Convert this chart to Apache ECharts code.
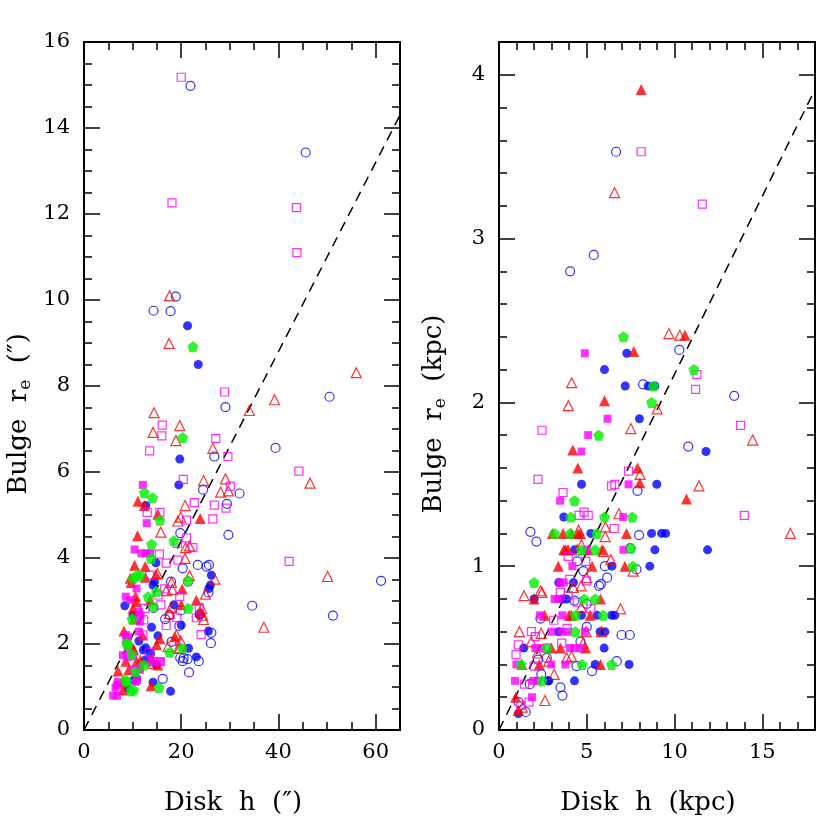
<!DOCTYPE html>
<html>
<head>
<meta charset="utf-8">
<script src="https://cdn.jsdelivr.net/npm/echarts@6/dist/echarts.min.js"></script>
<style>
  html, body { margin: 0; padding: 0; background: #ffffff; }
  #chart { width: 830px; height: 830px; }
</style>
</head>
<body>
<div id="chart"></div>
<script>
// ---- left panel: angular sizes (arcsec) ----
var leftOpenCircle = [[21.9,14.98],[45.6,13.43],[18.9,10.08],[14.3,9.75],[17.8,9.74],[29.1,7.51],[50.5,7.75],
  [39.4,6.56],[26.8,6.36],[24.5,5.59],[32.0,5.50],[29.4,5.26],[29.7,4.54],[19.8,4.58],[20.3,3.76],[23.4,3.84],
  [25.2,3.80],[25.7,3.84],[34.6,2.89],[51.2,2.66],[61.1,3.47],[17.9,3.45],[21.4,3.45],[19.9,2.78],[16.7,2.58],
  [17.6,2.67],[19.6,2.42],[26.2,2.26],[26.1,2.02],[18.0,2.05],[19.8,1.68],[20.3,1.60],[21.3,1.65],[23.6,1.60],
  [21.6,1.34],[16.2,1.19],[14.3,2.84],[25.6,3.20],[23.8,2.69],[20.5,1.67]];
var leftFilledCircle = [[21.3,9.40],[23.5,8.50],[19.7,6.30],[19.5,5.70],[14.8,3.89],[14.2,3.37],[14.5,3.45],
  [26.2,3.60],[25.7,3.29],[26.0,3.37],[18.5,2.91],[8.4,2.89],[13.9,2.39],[15.2,2.19],[25.6,2.30],[21.5,1.90],
  [23.1,1.70],[11.3,2.07],[14.2,1.11],[17.8,0.90],[9.0,0.97],[10.8,1.20],[20.0,2.44],[23.8,2.67],[12.6,1.63],
  [12.2,1.86],[14.9,1.51],[10.1,2.67],[12.7,5.22],[13.7,1.78],[12.7,1.91],[10.2,1.16]];
var leftOpenTriangle = [[17.6,10.1],[17.5,8.99],[56.0,8.31],[39.2,7.68],[34.0,7.43],[14.4,7.38],
  [14.2,6.92],[19.7,7.08],[18.9,6.73],[26.5,6.55],[24.6,5.80],[29.1,5.84],[28.1,5.53],[29.7,5.56],[46.5,5.74],
  [20.8,5.22],[19.3,4.86],[19.9,4.95],[15.8,4.60],[20.9,4.24],[21.7,4.28],[20.8,3.99],[21.7,3.59],[26.9,3.51],
  [25.0,3.16],[18.2,3.27],[18.0,3.43],[16.9,3.24],[24.2,2.83],[24.6,2.57],[24.4,2.67],[17.6,2.71],[17.9,2.85],
  [19.0,2.21],[19.9,2.07],[19.4,1.90],[17.3,1.94],[50.1,3.57],[37.0,2.39],[14.2,1.55],[15.1,3.64],[19.7,1.91],
  [14.1,1.61]];
var leftFilledTriangle = [[11.1,5.32],[12.4,5.22],[15.2,5.02],[23.9,4.92],[11.0,4.52],[10.4,3.83],[12.6,3.80],
  [9.5,3.53],[9.7,3.43],[12.6,3.55],[14.8,3.62],[10.6,3.11],[13.6,3.02],[20.2,3.28],[23.1,3.02],[20.0,2.91],
  [10.1,2.83],[10.8,2.98],[10.4,2.58],[8.2,2.30],[12.0,2.21],[14.9,1.98],[18.7,2.17],[10.1,1.90],[8.6,1.60],
  [10.8,1.59],[11.6,1.63],[13.8,1.67],[15.2,1.51],[7.0,1.37],[9.2,1.40],[8.0,1.12],[13.8,1.03],[24.0,2.75],
  [15.6,2.12],[10.2,1.86],[8.0,0.93]];
var leftOpenSquare = [[20.0,15.18],[18.1,12.26],[43.7,12.15],[43.8,11.1],[28.9,7.86],
  [16.1,7.09],[27.1,6.78],[13.5,6.49],[16.0,6.84],[29.6,6.36],[20.4,5.83],[30.1,5.67],[44.2,6.02],[22.7,5.29],
  [26.8,5.23],[29.2,5.16],[26.5,4.91],[21.1,4.88],[15.6,5.06],[13.0,5.06],[19.2,4.34],[21.1,4.47],[22.4,4.24],
  [15.5,4.09],[16.9,3.88],[19.3,3.95],[42.2,3.92],[19.7,3.10],[16.6,3.28],[15.2,3.14],[15.8,2.91],[13.5,3.60],
  [12.5,2.83],[19.1,2.61],[16.9,2.43],[23.1,2.61],[24.1,2.22],[23.7,2.84],[12.1,2.21],[13.4,1.81],[14.2,1.59],
  [12.3,2.56],[15.7,1.59]];
var leftFilledSquare = [[12.1,5.70],[12.9,4.81],[10.4,4.20],[11.8,4.11],[12.8,4.11],[13.6,4.11],[10.8,3.29],
  [8.6,3.10],[9.5,3.02],[11.3,2.75],[11.6,2.67],[11.5,2.52],[8.6,2.21],[9.1,2.17],[11.3,2.29],[8.0,1.74],
  [9.1,1.81],[10.1,1.71],[10.1,1.40],[11.5,1.40],[10.6,1.12],[7.0,1.12],[6.5,0.99],[6.0,0.80],[6.8,0.80],
  [13.9,1.60],[15.7,1.59],[8.7,2.05],[8.9,1.70],[11.3,1.44],[6.8,1.05],[10.9,1.16]];
var leftPentagon = [[22.4,8.91],[20.3,6.80],[12.4,5.52],[14.1,5.40],[15.6,4.88],[18.5,4.40],[13.9,4.32],
  [13.8,3.99],[10.8,3.59],[10.1,3.53],[11.5,3.60],[14.9,3.22],[13.2,3.10],[21.4,3.47],[21.4,2.83],[14.2,2.87],
  [9.9,2.58],[9.0,1.98],[9.8,1.76],[12.3,1.51],[17.6,1.81],[20.2,1.90],[8.8,1.12],[9.7,0.91],[15.4,0.99],
  [10.6,1.36],[8.8,2.02],[10.2,0.93],[8.5,1.16]];
var leftFitLine = [[0,0],[65,14.3]];

// ---- right panel: physical sizes (kpc) ----
var rightOpenCircle = [[6.67,3.53],[5.40,2.90],[4.05,2.80],[10.27,2.32],[8.21,2.11],[13.40,2.04],
  [10.78,1.73],[7.89,1.46],[1.79,1.21],[7.98,1.19],[2.13,1.15],[7.47,1.11],[4.45,1.03],[6.03,1.00],[7.83,0.98],
  [4.81,0.97],[6.16,0.93],[5.70,0.88],[5.80,0.89],[4.30,0.79],[5.0,0.77],[2.36,0.68],[5.0,0.63],[6.98,0.58],
  [7.45,0.58],[4.64,0.54],[2.22,0.43],[4.41,0.39],[6.71,0.42],[2.72,0.44],[5.30,0.36],[2.41,0.34],[1.75,0.28],
  [3.50,0.26],[3.61,0.21],[1.12,0.17],[1.52,0.11]];
var rightFilledCircle = [[7.28,2.30],[6.01,2.20],[7.19,2.10],[8.50,2.10],[8.88,2.10],
  [8.0,1.90],[11.79,1.70],[4.70,1.50],[8.99,1.50],[3.69,1.30],[5.23,1.20],[8.69,1.20],[9.26,1.20],[9.49,1.20],
  [4.3,1.10],[8.88,1.10],[11.88,1.10],[6.43,1.00],[8.59,1.00],[3.40,0.90],[4.24,0.90],[3.61,0.80],[3.84,0.80],
  [4.70,0.70],[5.59,0.70],[6.41,0.70],[6.60,0.70],[3.40,0.60],[5.76,0.60],[6.03,0.60],[1.41,0.50],[5.99,0.50],
  [5.48,0.40],[7.41,0.40],[2.79,0.30],[4.30,0.30],[1.10,0.10],[2.0,0.80],[2.84,0.30]];
var rightOpenTriangle = [[6.58,3.28],[9.68,2.42],[10.30,2.41],[4.14,2.12],[3.95,1.98],[9.01,1.96],
  [7.51,1.84],[14.45,1.77],[8.04,1.56],[11.39,1.49],[6.83,1.32],[6.06,1.24],[16.6,1.20],[4.54,1.22],[6.05,1.18],
  [4.70,1.13],[4.45,1.10],[5.95,1.09],[6.37,1.04],[7.64,0.97],[4.98,0.93],[4.68,0.88],[4.24,0.87],[2.36,0.85],
  [2.45,0.84],[1.43,0.82],[4.68,0.75],[6.92,0.74],[1.16,0.60],[2.40,0.59],[4.96,0.60],[5.84,0.60],[1.84,0.54],
  [4.79,0.53],[2.19,0.47],[2.83,0.42],[3.86,0.44],[4.13,0.45],[3.14,0.34],[2.62,0.18],[1.33,0.14]];
var rightFilledTriangle = [[8.10,3.91],[7.68,2.31],[10.59,2.41],[6.01,2.01],
  [4.20,1.71],[4.49,1.60],[7.89,1.60],[8.02,1.51],[10.68,1.41],[3.04,1.20],[3.65,1.20],[4.13,1.20],[4.50,1.20],
  [4.64,1.20],[7.26,1.20],[3.69,1.10],[3.80,1.10],[3.93,1.10],[5.08,1.10],[5.86,1.10],[3.38,1.00],[5.30,1.00],
  [7.17,1.00],[2.0,0.80],[5.78,0.80],[2.60,0.70],[3.99,0.70],[4.13,0.70],[5.19,0.70],[2.98,0.50],[3.50,0.50],
  [4.92,0.50],[5.78,0.40],[0.95,0.20],[1.10,0.12],[1.3,0.40],[2.3,0.40]];
var rightOpenSquare = [[8.10,3.53],[11.58,3.21],[11.27,2.17],[11.20,2.08],
  [2.45,1.83],[13.76,1.86],[7.38,1.58],[2.22,1.53],[6.41,1.49],[6.60,1.50],[3.65,1.45],[4.56,1.31],[4.85,1.33],
  [5.08,1.31],[13.97,1.31],[6.56,1.23],[3.94,1.06],[4.94,1.03],[4.98,0.91],[4.03,0.92],[3.50,0.84],[3.94,0.82],
  [4.45,0.78],[5.23,0.74],[3.12,0.67],[1.84,0.60],[3.88,0.62],[2.07,0.57],[1.10,0.52],[3.57,0.53],[2.74,0.50],
  [0.97,0.46],[2.0,0.39],[1.46,0.28],[1.71,0.17],[1.24,0.15]];
var rightFilledSquare = [[4.89,2.30],[6.18,1.90],[5.08,1.80],[4.70,1.70],[7.38,1.50],[3.48,1.40],[7.07,1.30],
  [5.0,1.10],[7.09,1.10],[4.18,1.00],[3.48,0.90],[3.69,0.90],[3.17,0.80],[3.40,0.80],[2.34,0.70],[3.61,0.70],
  [3.0,0.60],[3.56,0.60],[3.94,0.60],[4.89,0.60],[2.07,0.50],[2.41,0.50],[4.05,0.50],[4.64,0.50],[0.99,0.40],
  [2.98,0.40],[3.78,0.40],[0.91,0.30],[1.94,0.30],[1.88,0.20],[2.2,0.30],[4.3,0.50]];
var rightPentagon = [[7.09,2.40],[11.10,2.20],[8.80,2.10],[8.69,2.00],
  [5.68,1.80],[4.30,1.40],[4.09,1.30],[6.01,1.30],[7.59,1.30],[3.17,1.20],[4.05,1.20],[5.57,1.20],[4.70,1.10],
  [5.48,1.10],[7.51,1.11],[7.62,1.00],[2.0,0.90],[4.85,0.80],[5.48,0.80],[4.35,0.70],[5.93,0.70],[4.35,0.60],
  [2.74,0.50],[1.27,0.40],[4.73,0.40],[6.41,0.40],[2.45,0.30]];
var rightFitLine = [[0,0],[18,3.91]];

// axis limits / ticks
var leftX = { min: 0, max: 65, major: 20, minor: 5 };
var leftY = { min: 0, max: 16, major: 2, minor: 0.5 };
var rightX = { min: 0, max: 18, major: 5, minor: 1 };
var rightY = { min: 0, max: 4.2, major: 1, minor: 0.2 };

var FONT = 'DejaVu Serif';
var BLUE = '#0000ff', RED = '#ff0000', MAG = '#ff00ff', GREEN = '#00f000';
var PENTAGON = 'path://M0,-10 L9.51,-3.09 L5.88,8.09 L-5.88,8.09 L-9.51,-3.09 Z';

var myChart = echarts.init(document.getElementById('chart'));

// one axis: major with labels or minor without
function makeAxis(grid, pos, lim, major, withLabel, name) {
  var isX = pos === 'bottom' || pos === 'top';
  var ax = {
    type: 'value',
    gridIndex: grid,
    position: pos,
    min: lim.min,
    max: lim.max,
    interval: major ? lim.major : lim.minor,
    axisLine: { show: true, onZero: false, lineStyle: { color: '#000', width: 2 } },
    axisTick: { show: true, inside: true, length: major ? 16 : 8, lineStyle: { color: '#000', width: 1.5 } },
    axisLabel: { show: false },
    splitLine: { show: false }
  };
  if (withLabel) {
    ax.axisLabel = {
      show: true,
      margin: isX ? 12 : 14,
      color: '#000',
      fontFamily: FONT,
      fontSize: 21,
      formatter: function (v) {
        var r = v / lim.major;
        return Math.abs(r - Math.round(r)) < 1e-6 ? String(Math.round(v * 10) / 10) : '';
      }
    };
    ax.name = name;
    ax.nameLocation = 'middle';
    ax.nameGap = isX ? 60 : 50;
    ax.nameTextStyle = {
      color: '#000',
      fontFamily: FONT,
      fontSize: 26,
      // pushes the title a bit off-centre, like the original
      padding: isX ? [0, 18, 0, 0] : [0, 56, 0, 0],
      rich: {
        sub: { fontFamily: FONT, fontSize: 17, color: '#000', padding: [13, 0, 0, 0] }
      }
    };
  }
  return ax;
}

// every grid of a panel gets its own series, so each axis is bound to data
function scatter(data, shape, color, filled, size, idx) {
  return {
    type: 'scatter',
    xAxisIndex: idx,
    yAxisIndex: idx,
    data: data,
    symbol: shape,
    symbolSize: size,
    silent: true,
    itemStyle: filled
      ? { color: color }
      : { color: 'rgba(0,0,0,0)', borderColor: color, borderWidth: 1.2 }
  };
}

function fit(data, idx) {
  return {
    type: 'line',
    xAxisIndex: idx,
    yAxisIndex: idx,
    data: data,
    symbol: 'none',
    silent: true,
    lineStyle: { color: '#000', width: 1.5, type: [10, 7] },
    z: 1
  };
}

// four overlapping grids per panel, one axis per side in each
var grids = [], xAxes = [], yAxes = [];
function panel(p, left, xLim, yLim, xName, yName) {
  for (var k = 0; k < 4; k++) grids.push({ left: left, top: 42, width: 316, height: 688 });
  var g = p * 4;
  xAxes.push(makeAxis(g, 'bottom', xLim, true, true, xName));
  xAxes.push(makeAxis(g + 1, 'top', xLim, true, false));
  xAxes.push(makeAxis(g + 2, 'bottom', xLim, false, false));
  xAxes.push(makeAxis(g + 3, 'top', xLim, false, false));
  yAxes.push(makeAxis(g, 'left', yLim, true, true, yName));
  yAxes.push(makeAxis(g + 1, 'right', yLim, true, false));
  yAxes.push(makeAxis(g + 2, 'left', yLim, false, false));
  yAxes.push(makeAxis(g + 3, 'right', yLim, false, false));
}
panel(0, 84, leftX, leftY, 'Disk  h  (\u2033)', 'Bulge  r{sub|e}  (\u2033)');
panel(1, 499, rightX, rightY, 'Disk  h  (kpc)', 'Bulge  r{sub|e}  (kpc)');

var option = {
  animation: false,
  backgroundColor: '#ffffff',
  grid: grids,
  xAxis: xAxes,
  yAxis: yAxes,
  series: [
    fit(leftFitLine, 3),
    scatter(leftOpenCircle, 'circle', BLUE, false, 9, 0),
    scatter(leftFilledCircle, 'circle', BLUE, true, 9, 0),
    scatter(leftOpenTriangle, 'triangle', RED, false, 10, 1),
    scatter(leftFilledTriangle, 'triangle', RED, true, 11, 1),
    scatter(leftOpenSquare, 'rect', MAG, false, 8, 2),
    scatter(leftFilledSquare, 'rect', MAG, true, 8, 2),
    scatter(leftPentagon, PENTAGON, GREEN, true, 11, 3),
    fit(rightFitLine, 7),
    scatter(rightOpenCircle, 'circle', BLUE, false, 9, 4),
    scatter(rightFilledCircle, 'circle', BLUE, true, 9, 4),
    scatter(rightOpenTriangle, 'triangle', RED, false, 10, 5),
    scatter(rightFilledTriangle, 'triangle', RED, true, 11, 5),
    scatter(rightOpenSquare, 'rect', MAG, false, 8, 6),
    scatter(rightFilledSquare, 'rect', MAG, true, 8, 6),
    scatter(rightPentagon, PENTAGON, GREEN, true, 11, 7)
  ]
};
myChart.setOption(option);
</script>
</body>
</html>
